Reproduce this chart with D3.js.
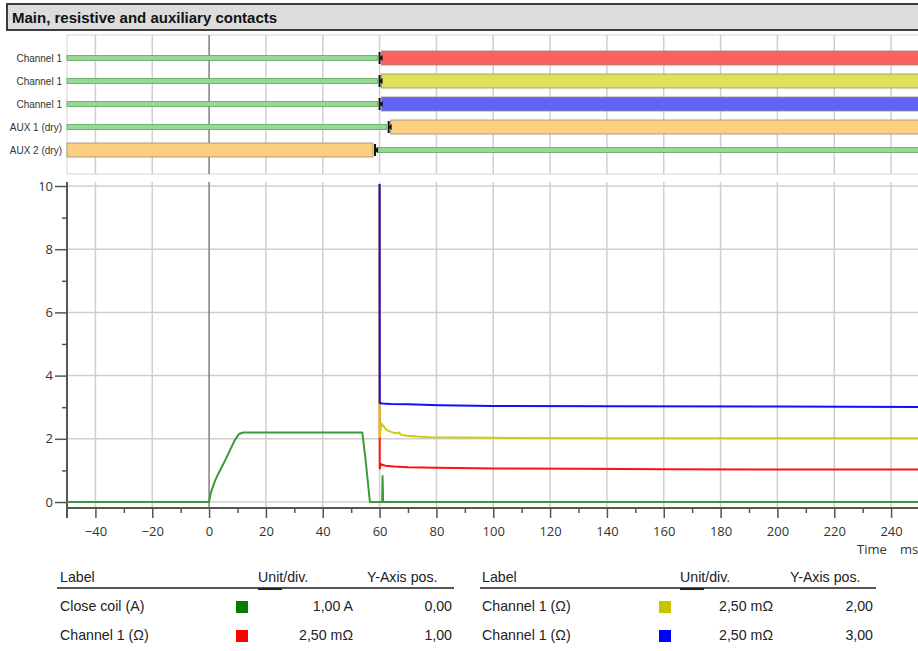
<!DOCTYPE html>
<html>
<head>
<meta charset="utf-8">
<script src="https://cdn.jsdelivr.net/npm/d3@7"></script>
<style>
  body { margin: 0; background: #fff; }
  svg { display: block; font-family: 'Liberation Sans', Arial, sans-serif; }
  .tick text { font-family: 'Open Sans', sans-serif; font-size: 13px; fill: #333; }
</style>
</head>
<body>
<div id="chart"></div>
<script>
// contact timing rows
const contactLabels = ['Channel 1', 'Channel 1', 'Channel 1', 'AUX 1 (dry)', 'AUX 2 (dry)'];
const contactSwitchTime = [60, 60, 60, 63.2, 58.4];
const contactClosedBefore = [false, false, false, false, true];
const contactColors = ['#f86262', '#e0e05a', '#6262f8', '#fcd080', '#fcd080'];

// analog traces (time in ms, value in divisions)
const coilTime = [-50, 0, 0.5, 1, 2, 3, 4, 5, 6, 7.4, 9, 10.5, 12, 20, 30, 40, 50, 53.9, 55, 56.6, 58, 60, 60.9, 61.05, 61.25, 62, 80, 120, 160, 200, 250];
const coilValue = [0, 0, 0.25, 0.4, 0.65, 0.85, 1.03, 1.2, 1.38, 1.65, 1.95, 2.15, 2.2, 2.2, 2.2, 2.2, 2.2, 2.2, 1.4, 0, 0, 0, 0, 0.82, 0, 0, 0, 0, 0, 0, 0];

const redTime = [60, 60.05, 60.5, 61, 62, 65, 70, 80, 100, 130, 160, 200, 250];
const redValue = [10.6, 1.06, 1.2, 1.18, 1.15, 1.12, 1.1, 1.08, 1.06, 1.05, 1.04, 1.03, 1.03];

const yellowTime = [60, 60.05, 60.6, 62.4, 64, 66, 66.8, 67.5, 69.6, 73, 77.8, 90, 100, 140, 200, 250];
const yellowValue = [10.6, 2.05, 2.49, 2.28, 2.22, 2.17, 2.2, 2.13, 2.1, 2.07, 2.05, 2.04, 2.03, 2.02, 2.02, 2.02];

const blueTime = [60, 60.05, 61, 64, 70, 81, 100, 140, 200, 250];
const blueValue = [10.6, 3.13, 3.12, 3.1, 3.09, 3.06, 3.04, 3.03, 3.02, 3.01];

const xMajorTicks = d3.range(-40, 241, 20);
const xMinorTicks = d3.range(-30, 251, 20);
const yMajorTicks = [0, 2, 4, 6, 8, 10];
const yMinorTicks = [1, 3, 5, 7, 9];

// legend tables
const legendLabels = ['Close coil (A)', 'Channel 1 (\u03a9)', 'Channel 1 (\u03a9)', 'Channel 1 (\u03a9)'];
const legendUnits = ['1,00 A', '2,50 m\u03a9', '2,50 m\u03a9', '2,50 m\u03a9'];
const legendPos = ['0,00', '1,00', '2,00', '3,00'];
const legendColors = ['#008000', '#ff0000', '#c8c400', '#0000ff'];
const traceColors = ['#3a9a3a', '#ff1010', '#cccc10', '#1010ff'];

const W = 918, H = 651;
const svg = d3.select('#chart').append('svg').attr('width', W).attr('height', H);

const x = d3.scaleLinear().domain([-50, 250]).range([67, 919.5]);
const y = d3.scaleLinear().domain([0, 10]).range([502, 186]);

// title bar
svg.append('rect').attr('x', 7).attr('y', 4).attr('width', 930).attr('height', 26)
  .attr('fill', '#dcdcdc').attr('stroke', '#3a3a3a').attr('stroke-width', 2);
svg.append('text').attr('x', 12).attr('y', 22.5).attr('font-size', 15).attr('font-weight', 'bold')
  .attr('fill', '#111').text('Main, resistive and auxiliary contacts');

// contact timing panel
const panelTop = 35, panelBottom = 174;
svg.append('rect').attr('x', 67).attr('y', panelTop).attr('width', 900).attr('height', panelBottom - panelTop)
  .attr('fill', '#fff').attr('stroke', '#d6d6d6');
svg.append('g').selectAll('line').data(xMajorTicks).join('line')
  .attr('x1', d => x(d)).attr('x2', d => x(d))
  .attr('y1', panelTop).attr('y2', panelBottom)
  .attr('stroke', d => d === 0 ? '#808080' : '#cfcfcf').attr('stroke-width', 1.5);

const rowY = d3.scalePoint().domain(d3.range(contactLabels.length)).range([58, 150]);
const rows = svg.append('g').selectAll('g').data(contactLabels).join('g');
rows.append('text')
  .attr('x', 62).attr('y', (d, i) => rowY(i) + 3.5)
  .attr('text-anchor', 'end').attr('font-size', 10).attr('fill', '#333')
  .text(d => d);

rows.each(function (d, i) {
  const g = d3.select(this);
  const t = contactSwitchTime[i];
  const cy = rowY(i);
  const segs = [
    { from: -50, to: t, closed: contactClosedBefore[i] },
    { from: t, to: 260, closed: !contactClosedBefore[i] }
  ];
  segs.forEach((s, k) => {
    const x0 = x(s.from) + (k === 1 ? 2 : 0);
    const x1 = x(s.to) - (k === 0 ? 2 : 0);
    if (s.closed) {
      g.append('rect').attr('x', x0).attr('y', cy - 7).attr('width', x1 - x0).attr('height', 14)
        .attr('fill', contactColors[i]).attr('stroke', '#9a8a70').attr('stroke-width', 0.8);
    } else {
      g.append('rect').attr('x', x0).attr('y', cy - 2.5).attr('width', x1 - x0).attr('height', 5)
        .attr('fill', '#94da94').attr('stroke', '#5aa85a').attr('stroke-width', 0.8);
    }
  });
  g.append('line').attr('x1', x(t)).attr('x2', x(t))
    .attr('y1', cy - 6).attr('y2', cy + 6).attr('stroke', '#111').attr('stroke-width', 2);
  g.append('path')
    .attr('d', `M${x(t) - 1},${cy} l4,-3 l0,6 z`)
    .attr('fill', '#111');
});

// main plot grid
const grid = svg.append('g');
grid.selectAll('line.h').data(yMajorTicks).join('line').attr('class', 'h')
  .attr('x1', 67).attr('x2', W).attr('y1', d => y(d)).attr('y2', d => y(d))
  .attr('stroke', '#cfcfcf').attr('stroke-width', 1.5);
grid.selectAll('line.v').data(xMajorTicks).join('line').attr('class', 'v')
  .attr('x1', d => x(d)).attr('x2', d => x(d)).attr('y1', 182).attr('y2', 508)
  .attr('stroke', d => d === 0 ? '#808080' : '#cfcfcf').attr('stroke-width', 1.5);

// axes
const yMajor = svg.append('g').attr('transform', 'translate(67,0)')
  .call(d3.axisLeft(y).tickValues(yMajorTicks).tickSize(12).tickPadding(2).tickFormat(d3.format('d')));
const yMinor = svg.append('g').attr('transform', 'translate(67,0)')
  .call(d3.axisLeft(y).tickValues(yMinorTicks).tickSize(5).tickFormat(''));
const xMajor = svg.append('g').attr('transform', 'translate(0,508)')
  .call(d3.axisBottom(x).tickValues(xMajorTicks).tickSize(10).tickPadding(9).tickFormat(d3.format('d')));
const xMinor = svg.append('g').attr('transform', 'translate(0,508)')
  .call(d3.axisBottom(x).tickValues(xMinorTicks).tickSize(5).tickFormat(''));
[yMajor, yMinor, xMajor, xMinor].forEach(a => {
  a.select('.domain').remove();
  a.selectAll('.tick line').attr('stroke', '#555').attr('stroke-width', 1.5);
});
svg.append('line').attr('x1', 67).attr('x2', 67).attr('y1', 182).attr('y2', 518)
  .attr('stroke', '#555').attr('stroke-width', 2);
svg.append('line').attr('x1', 67).attr('x2', W).attr('y1', 508).attr('y2', 508)
  .attr('stroke', '#555').attr('stroke-width', 2);

svg.append('text').attr('x', 857).attr('y', 554).attr('font-family', 'Open Sans, sans-serif')
  .attr('font-size', 13).attr('fill', '#333').text('Time');
svg.append('text').attr('x', 900).attr('y', 554).attr('font-family', 'Open Sans, sans-serif')
  .attr('font-size', 13).attr('fill', '#333').text('ms');

// traces
svg.append('clipPath').attr('id', 'plotClip').append('rect')
  .attr('x', 67).attr('y', 184).attr('width', W - 67).attr('height', 330);
const traces = [
  { t: coilTime, v: coilValue },
  { t: redTime, v: redValue },
  { t: yellowTime, v: yellowValue },
  { t: blueTime, v: blueValue }
];
const line = d3.line().x(d => x(d[0])).y(d => y(d[1]));
svg.append('g').attr('clip-path', 'url(#plotClip)')
  .selectAll('path').data(traces).join('path')
  .attr('d', d => line(d.t.map((tt, k) => [tt, d.v[k]])))
  .attr('fill', 'none')
  .attr('stroke', (d, i) => traceColors[i])
  .attr('stroke-width', 2)
  .attr('stroke-linejoin', 'round');

// legend tables
const tables = [
  { idx: [0, 1], left: 57, right: 454, label: 60, unitHead: 258, posHead: 367, sw: 236, unitR: 353, posR: 452 },
  { idx: [2, 3], left: 480, right: 876, label: 482, unitHead: 680, posHead: 790, sw: 659, unitR: 773, posR: 873 }
];
const rowBase = [611, 640];
tables.forEach(tb => {
  const g = svg.append('g').attr('font-size', 14.2).attr('fill', '#222');
  g.append('text').attr('x', tb.label).attr('y', 582).text('Label');
  g.append('text').attr('x', tb.unitHead).attr('y', 582).text('Unit/div.');
  g.append('text').attr('x', tb.posHead).attr('y', 582).text('Y-Axis pos.');
  g.append('line').attr('x1', tb.left).attr('x2', tb.right).attr('y1', 588).attr('y2', 588)
    .attr('stroke', '#555').attr('stroke-width', 2);
  g.append('line').attr('x1', tb.unitHead).attr('x2', tb.unitHead + 24).attr('y1', 589).attr('y2', 589)
    .attr('stroke', '#222').attr('stroke-width', 2);
  tb.idx.forEach((i, r) => {
    g.append('text').attr('x', tb.label).attr('y', rowBase[r]).text(legendLabels[i]);
    g.append('rect').attr('x', tb.sw).attr('y', rowBase[r] - 10).attr('width', 12).attr('height', 12)
      .attr('fill', legendColors[i]);
    g.append('text').attr('x', tb.unitR).attr('y', rowBase[r]).attr('text-anchor', 'end').text(legendUnits[i]);
    g.append('text').attr('x', tb.posR).attr('y', rowBase[r]).attr('text-anchor', 'end').text(legendPos[i]);
  });
});
</script>
</body>
</html>
